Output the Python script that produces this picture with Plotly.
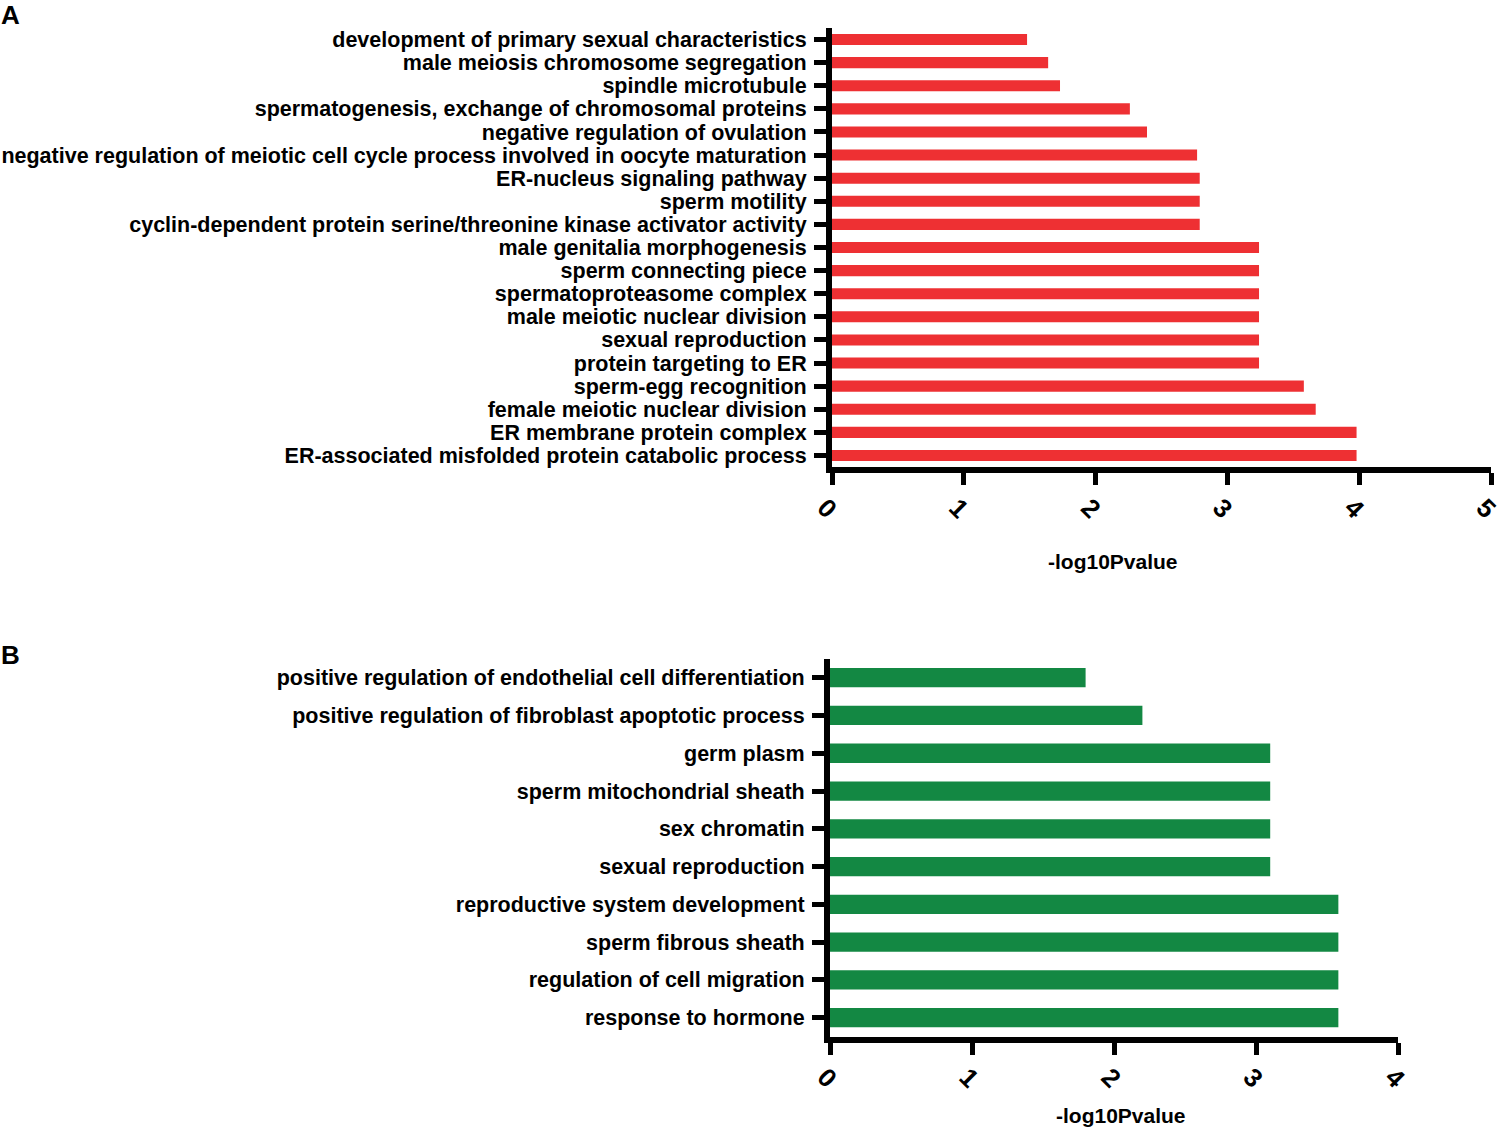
import plotly.graph_objects as go

# Panel A (top to bottom)
terms_a = [
    "development of primary sexual characteristics",
    "male meiosis chromosome segregation",
    "spindle microtubule",
    "spermatogenesis, exchange of chromosomal proteins",
    "negative regulation of ovulation",
    "negative regulation of meiotic cell cycle process involved in oocyte maturation",
    "ER-nucleus signaling pathway",
    "sperm motility",
    "cyclin-dependent protein serine/threonine kinase activator activity",
    "male genitalia morphogenesis",
    "sperm connecting piece",
    "spermatoproteasome complex",
    "male meiotic nuclear division",
    "sexual reproduction",
    "protein targeting to ER",
    "sperm-egg recognition",
    "female meiotic nuclear division",
    "ER membrane protein complex",
    "ER-associated misfolded protein catabolic process",
]
values_a = [1.48, 1.64, 1.73, 2.26, 2.39, 2.77, 2.79, 2.79, 2.79,
            3.24, 3.24, 3.24, 3.24, 3.24, 3.24, 3.58, 3.67, 3.98, 3.98]

# Panel B (top to bottom)
terms_b = [
    "positive regulation of endothelial cell differentiation",
    "positive regulation of fibroblast apoptotic process",
    "germ plasm",
    "sperm mitochondrial sheath",
    "sex chromatin",
    "sexual reproduction",
    "reproductive system development",
    "sperm fibrous sheath",
    "regulation of cell migration",
    "response to hormone",
]
values_b = [1.80, 2.20, 3.10, 3.10, 3.10, 3.10, 3.58, 3.58, 3.58, 3.58]

ticks_a = [0, 1, 2, 3, 4, 5]
ticks_b = [0, 1, 2, 3, 4]
xtitle = "-log10Pvalue"

W, H = 1502, 1127
RED = "#EE3033"
GREEN = "#138843"
FONT = "Liberation Sans, Arial, sans-serif"

fig = go.Figure()
fig.add_trace(go.Bar(x=values_a, y=terms_a, orientation="h", marker_color=RED,
                     marker_line_width=0, width=0.48, xaxis="x", yaxis="y"))
fig.add_trace(go.Bar(x=values_b, y=terms_b, orientation="h", marker_color=GREEN,
                     marker_line_width=0, width=0.51, xaxis="x2", yaxis="y2"))

axis_common = dict(showline=True, linewidth=6, linecolor="black", ticks="outside",
                   tickwidth=5, tickcolor="black", ticklen=12, showgrid=False,
                   zeroline=False, automargin=False, ticklabeloverflow="allow")

xfont = dict(size=26, family=FONT, color="black", weight="bold")
yfont = dict(size=21.5, family=FONT, color="black", weight="bold")

fig.update_layout(
    template="none",
    width=W, height=H,
    margin=dict(l=0, r=0, t=0, b=0, autoexpand=False),
    paper_bgcolor="white", plot_bgcolor="white",
    showlegend=False,
    font=dict(family=FONT, color="black"),
    xaxis=dict(domain=[832 / W, 1491 / W], range=[0, 5], tickmode="array",
               tickvals=ticks_a, tickangle=45, anchor="y", tickfont=xfont,
               ticklabelstandoff=-3, ticklabelshift=-7, **axis_common),
    yaxis=dict(domain=[(H - 467) / H, (H - 28) / H], range=[18.5, -0.5],
               type="category", anchor="x", tickfont=yfont, tickmode="array",
               tickvals=terms_a, ticktext=terms_a,
               ticklabelstandoff=3, **axis_common),
    xaxis2=dict(domain=[830 / W, 1398 / W], range=[0, 4], tickmode="array",
                tickvals=ticks_b, tickangle=45, anchor="y2", tickfont=xfont,
                ticklabelstandoff=-3, ticklabelshift=-5, **axis_common),
    yaxis2=dict(domain=[(H - 1036.6) / H, (H - 658.8) / H], range=[9.5, -0.5],
                type="category", anchor="x2", tickfont=yfont, tickmode="array",
                tickvals=terms_b, ticktext=terms_b,
                ticklabelstandoff=3, **axis_common),
)

annots = [
    dict(text="<b>A</b>", x=10 / W, y=1 - 15 / H, size=26),
    dict(text="<b>B</b>", x=10 / W, y=1 - 655 / H, size=26),
    dict(text="<b>" + xtitle + "</b>", x=1113 / W, y=1 - 562 / H, size=21),
    dict(text="<b>" + xtitle + "</b>", x=1121 / W, y=1 - 1115 / H, size=21),
]
for a in annots:
    fig.add_annotation(text=a["text"], x=a["x"], y=a["y"], xref="paper", yref="paper",
                       showarrow=False, xanchor="center", yanchor="middle",
                       font=dict(size=a["size"], family=FONT, color="black"))

fig.write_html("out.html", config={"displayModeBar": False},
               post_script="document.body.style.margin='0px';document.body.style.overflow='hidden';")
